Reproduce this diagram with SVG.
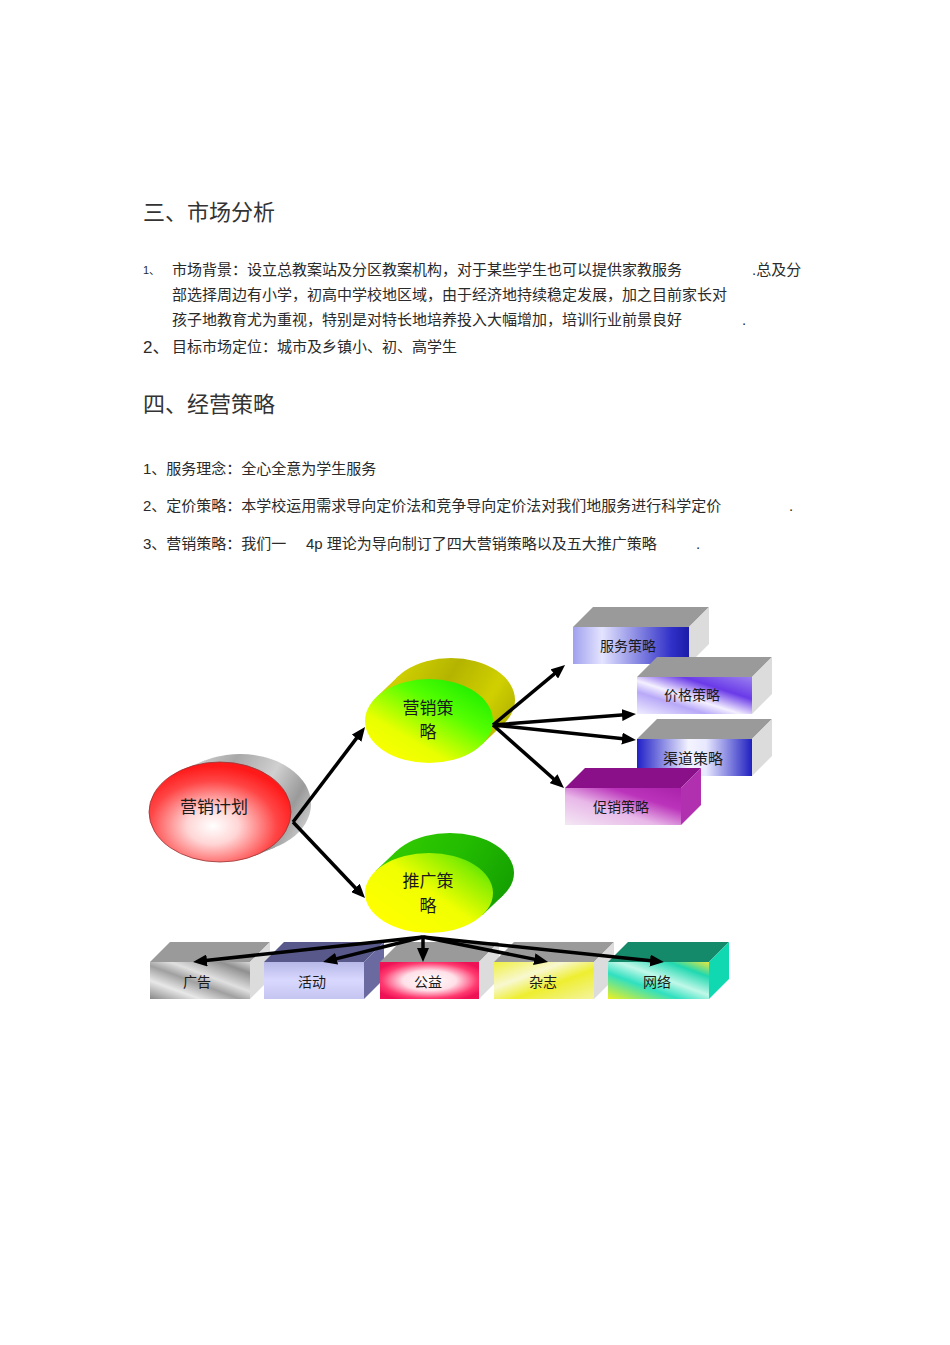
<svg xmlns="http://www.w3.org/2000/svg" width="950" height="1345" viewBox="0 0 950 1345">
<defs>
<style>
text{font-family:"Liberation Sans","Noto Sans CJK SC",sans-serif;fill:#2a2a2a}
.h{font-size:22px;fill:#333}
.b{font-size:15px}
.n{font-size:17px;fill:#1a1a1a;text-anchor:middle}
.bl{font-size:14px;fill:#1a1a1a;text-anchor:middle}
.top{fill:#9a9a9a}
.side{fill:#dcdcdc}
.arr{stroke:#000;stroke-width:3.5;fill:none;marker-end:url(#ah)}
</style>
<marker id="ah" markerUnits="userSpaceOnUse" markerWidth="14" markerHeight="12" refX="6" refY="6" orient="auto">
<path d="M0,0 L14,6 L0,12 z" fill="#000"/>
</marker>
<radialGradient id="redF" cx="0.45" cy="0.64" r="0.6">
<stop offset="0" stop-color="#ffffff"/><stop offset="0.3" stop-color="#ffd6d6"/><stop offset="0.75" stop-color="#ff4545"/><stop offset="1" stop-color="#ff1a1a"/>
</radialGradient>
<linearGradient id="grayB" gradientUnits="userSpaceOnUse" x1="170" y1="760" x2="310" y2="840">
<stop offset="0" stop-color="#e6e6e6"/><stop offset="0.35" stop-color="#a8a8a8"/><stop offset="0.6" stop-color="#d0d0d0"/><stop offset="0.8" stop-color="#9a9a9a"/><stop offset="1" stop-color="#e0e0e0"/>
</linearGradient>
<linearGradient id="grnF" x1="0.1" y1="0.95" x2="0.85" y2="0.1">
<stop offset="0" stop-color="#ffff00"/><stop offset="0.3" stop-color="#e8ff00"/><stop offset="0.7" stop-color="#55ff00"/><stop offset="1" stop-color="#22ee00"/>
</linearGradient>
<linearGradient id="oliveB" gradientUnits="userSpaceOnUse" x1="390" y1="660" x2="515" y2="740">
<stop offset="0" stop-color="#d8d800"/><stop offset="0.4" stop-color="#b4b400"/><stop offset="0.7" stop-color="#d0d000"/><stop offset="1" stop-color="#a8a800"/>
</linearGradient>
<linearGradient id="prmF" x1="0.15" y1="0.85" x2="1" y2="0.1">
<stop offset="0" stop-color="#ffff00"/><stop offset="0.45" stop-color="#f0ff00"/><stop offset="0.8" stop-color="#88ee00"/><stop offset="1" stop-color="#33dd00"/>
</linearGradient>
<linearGradient id="grnB" gradientUnits="userSpaceOnUse" x1="390" y1="835" x2="515" y2="910">
<stop offset="0" stop-color="#33cc00"/><stop offset="0.5" stop-color="#22bb00"/><stop offset="1" stop-color="#119900"/>
</linearGradient>
<linearGradient id="fwF" x1="0" y1="0" x2="1" y2="0">
<stop offset="0" stop-color="#a0a0ee"/><stop offset="0.25" stop-color="#e4e4ff"/><stop offset="0.85" stop-color="#3030c8"/><stop offset="1" stop-color="#1c1ca8"/>
</linearGradient>
<linearGradient id="jgF" x1="0" y1="1" x2="1" y2="0">
<stop offset="0" stop-color="#f0eeff"/><stop offset="0.3" stop-color="#b8a8f8"/><stop offset="0.45" stop-color="#f4f0ff"/><stop offset="0.7" stop-color="#6a3ae8"/><stop offset="1" stop-color="#9a80f0"/>
</linearGradient>
<linearGradient id="qdF" x1="0" y1="0" x2="1" y2="0">
<stop offset="0" stop-color="#2020c8"/><stop offset="0.45" stop-color="#f4f4ff"/><stop offset="0.6" stop-color="#e8e8ff"/><stop offset="1" stop-color="#2020c0"/>
</linearGradient>
<linearGradient id="cxF" x1="0" y1="1" x2="1" y2="0">
<stop offset="0" stop-color="#f4e8f4"/><stop offset="0.4" stop-color="#e8b8e8"/><stop offset="0.7" stop-color="#bb33bb"/><stop offset="1" stop-color="#aa22aa"/>
</linearGradient>
<linearGradient id="ggF" x1="0" y1="1" x2="1" y2="0">
<stop offset="0" stop-color="#888"/><stop offset="0.25" stop-color="#e8e8e8"/><stop offset="0.45" stop-color="#a0a0a0"/><stop offset="0.6" stop-color="#e0e0e0"/><stop offset="0.85" stop-color="#909090"/><stop offset="1" stop-color="#d8d8d8"/>
</linearGradient>
<linearGradient id="hdF" x1="0" y1="0" x2="0" y2="1">
<stop offset="0" stop-color="#b8b8e8"/><stop offset="0.5" stop-color="#d8d8ff"/><stop offset="1" stop-color="#c4c4f0"/>
</linearGradient>
<radialGradient id="gyF" cx="0.5" cy="0.5" r="0.6">
<stop offset="0" stop-color="#ffffff"/><stop offset="0.45" stop-color="#ffe0e8"/><stop offset="0.8" stop-color="#ff3a70"/><stop offset="1" stop-color="#ee1155"/>
</radialGradient>
<linearGradient id="zzF" x1="0" y1="0" x2="1" y2="1">
<stop offset="0" stop-color="#f0f040"/><stop offset="0.35" stop-color="#f8f8d0"/><stop offset="0.6" stop-color="#eeee30"/><stop offset="1" stop-color="#f4f4a0"/>
</linearGradient>
<linearGradient id="wlF" x1="0" y1="1" x2="1" y2="0">
<stop offset="0" stop-color="#f0f020"/><stop offset="0.35" stop-color="#30e0c0"/><stop offset="0.55" stop-color="#c0f8e8"/><stop offset="0.8" stop-color="#20d8b0"/><stop offset="1" stop-color="#e8e840"/>
</linearGradient>
</defs>
<rect width="950" height="1345" fill="#fff"/>

<g id="text">
<text class="h" x="143" y="220">三、市场分析</text>
<text x="143" y="274" style="font-size:11px">1、</text>
<text class="b" x="172" y="275">市场背景：设立总教案站及分区教案机构，对于某些学生也可以提供家教服务</text>
<text class="b" x="752" y="275">.总及分</text>
<text class="b" x="172" y="300">部选择周边有小学，初高中学校地区域，由于经济地持续稳定发展，加之目前家长对</text>
<text class="b" x="172" y="325">孩子地教育尤为重视，特别是对特长地培养投入大幅增加，培训行业前景良好</text>
<text class="b" x="742" y="325">.</text>
<text x="143" y="353" style="font-size:17px">2、</text>
<text class="b" x="172" y="352">目标市场定位：城市及乡镇小、初、高学生</text>
<text class="h" x="143" y="412">四、经营策略</text>
<text class="b" x="143" y="474">1、服务理念：全心全意为学生服务</text>
<text class="b" x="143" y="511">2、定价策略：本学校运用需求导向定价法和竞争导向定价法对我们地服务进行科学定价</text>
<text class="b" x="789" y="511">.</text>
<text class="b" x="143" y="549">3、营销策略：我们一</text>
<text class="b" x="306" y="549">4p 理论为导向制订了四大营销策略以及五大推广策略</text>
<text class="b" x="696" y="549">.</text>
</g>

<g id="node-plan">
<g fill="url(#grayB)">
<polygon points="255.1,855.5 275.1,847.5 204.9,760.5 184.9,768.5"/>
<ellipse cx="240" cy="804" rx="71" ry="50"/>
</g>
<ellipse cx="220" cy="812" rx="71" ry="50" fill="url(#redF)" stroke="#993333" stroke-width="0.8"/>
<text class="n" x="214" y="813">营销计划</text>
</g>

<g id="node-marketing">
<g fill="url(#oliveB)">
<polygon points="481.7,744.8 503.7,723.8 398.3,676.2 376.3,697.2"/>
<ellipse cx="451" cy="700" rx="64" ry="42"/>
</g>
<ellipse cx="429" cy="721" rx="64" ry="42" fill="url(#grnF)"/>
<text class="n" x="428" y="714">营销策</text>
<text class="n" x="428" y="738">略</text>
</g>

<g id="node-promo">
<g fill="url(#grnB)">
<polygon points="482.5,915 503.5,895 396.5,851 375.5,871"/>
<ellipse cx="450" cy="873" rx="64" ry="40"/>
</g>
<ellipse cx="429" cy="893" rx="64" ry="40" fill="url(#prmF)"/>
<text class="n" x="428" y="887">推广策</text>
<text class="n" x="428" y="912">略</text>
</g>

<g id="box-fuwu">
<polygon class="top" points="573,627 593,607 709,607 689,627"/>
<polygon class="side" points="689,627 709,607 709,644 689,664"/>
<rect x="573" y="627" width="116" height="37" fill="url(#fwF)"/>
<text class="bl" x="628" y="651">服务策略</text>
</g>
<g id="box-jiage">
<polygon class="top" points="637,677 657,657 772,657 752,677"/>
<polygon class="side" points="752,677 772,657 772,694 752,714"/>
<rect x="637" y="677" width="115" height="37" fill="url(#jgF)"/>
<text class="bl" x="692" y="700">价格策略</text>
</g>
<g id="box-qudao">
<polygon class="top" points="637,739 657,719 772,719 752,739"/>
<polygon class="side" points="752,739 772,719 772,756 752,776"/>
<rect x="637" y="739" width="115" height="37" fill="url(#qdF)"/>
<text class="bl" x="693" y="764" style="font-size:15px">渠道策略</text>
</g>
<g id="box-cuxiao">
<polygon points="565,788 585,768 701,768 681,788" fill="#8a108a"/>
<polygon points="681,788 701,768 701,805 681,825" fill="#b030b0"/>
<rect x="565" y="788" width="116" height="37" fill="url(#cxF)"/>
<text class="bl" x="621" y="812">促销策略</text>
</g>

<g id="box-guanggao">
<polygon class="top" points="150,962 170,942 270,942 250,962"/>
<polygon class="side" points="250,962 270,942 270,979 250,999"/>
<rect x="150" y="962" width="100" height="37" fill="url(#ggF)"/>
<text class="bl" x="197" y="987">广告</text>
</g>
<g id="box-huodong">
<polygon points="264,962 284,942 384,942 364,962" fill="#58588a"/>
<polygon points="364,962 384,942 384,979 364,999" fill="#6a6aa0"/>
<rect x="264" y="962" width="100" height="37" fill="url(#hdF)"/>
<text class="bl" x="312" y="987">活动</text>
</g>
<g id="box-gongyi">
<polygon class="top" points="380,962 400,942 499,942 479,962"/>
<polygon class="side" points="479,962 499,942 499,979 479,999"/>
<rect x="380" y="962" width="99" height="37" fill="url(#gyF)"/>
<text class="bl" x="428" y="987">公益</text>
</g>
<g id="box-zazhi">
<polygon class="top" points="494,962 514,942 614,942 594,962"/>
<polygon class="side" points="594,962 614,942 614,979 594,999"/>
<rect x="494" y="962" width="100" height="37" fill="url(#zzF)"/>
<text class="bl" x="543" y="987">杂志</text>
</g>
<g id="box-wangluo">
<polygon points="608,962 628,942 729,942 709,962" fill="#148a6a"/>
<polygon points="709,962 729,942 729,979 709,999" fill="#10d8b0"/>
<rect x="608" y="962" width="101" height="37" fill="url(#wlF)"/>
<text class="bl" x="657" y="987">网络</text>
</g>

<g id="connectors">
<line class="arr" x1="293" y1="822" x2="360.2" y2="733.4"/>
<line class="arr" x1="293" y1="822" x2="359.5" y2="892.2"/>
<line class="arr" x1="493" y1="725" x2="558.9" y2="670.1"/>
<line class="arr" x1="493" y1="725" x2="628" y2="714.6"/>
<line class="arr" x1="493" y1="725" x2="628" y2="739.2"/>
<line class="arr" x1="493" y1="725" x2="558" y2="782.7"/>
<line class="arr" x1="423" y1="937" x2="201" y2="961.1"/>
<line class="arr" x1="423" y1="937" x2="330.8" y2="960.1"/>
<line class="arr" x1="423" y1="937" x2="423" y2="954"/>
<line class="arr" x1="423" y1="937" x2="540.2" y2="960.4"/>
<line class="arr" x1="423" y1="937" x2="656" y2="961.2"/>
</g>
</svg>
